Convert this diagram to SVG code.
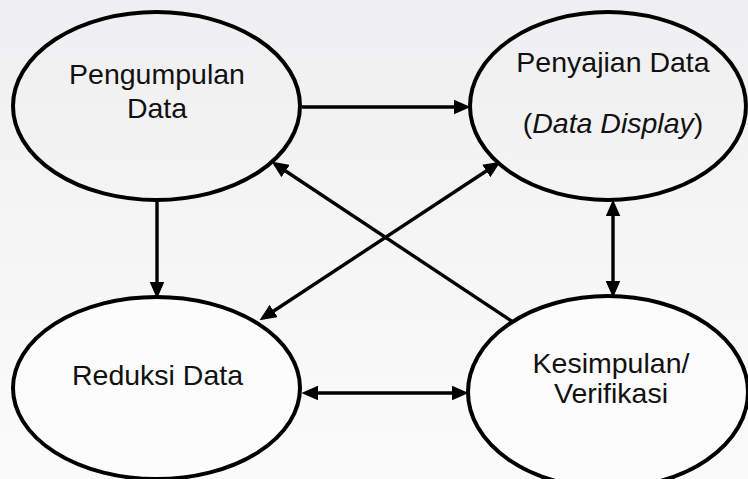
<svg xmlns="http://www.w3.org/2000/svg" width="748" height="479" viewBox="0 0 748 479">
  <style>
    .node { stroke: #000; stroke-width: 4; }
    .lbl { font-family: "Liberation Sans", Arial, sans-serif; font-size: 28.5px; fill: #111; text-anchor: middle; }
    .conn { stroke: #000; stroke-width: 3.4; fill: none; }
  </style>
  <defs>
    <linearGradient id="bg" x1="0" y1="0" x2="0" y2="1">
      <stop offset="0" stop-color="#efeff1"/>
      <stop offset="1" stop-color="#fbfbfb"/>
    </linearGradient>
    <marker id="ah" markerUnits="userSpaceOnUse" markerWidth="17" markerHeight="15" viewBox="0 0 16 14" refX="6" refY="7" orient="auto-start-reverse">
      <path d="M0,0 L16,7 L0,14 z" fill="#000"/>
    </marker>
  </defs>
  <rect x="0" y="0" width="748" height="479" fill="url(#bg)"/>

  <g id="pengumpulan">
    <ellipse class="node" cx="156.5" cy="106" rx="143.5" ry="94" fill="none"/>
    <text class="lbl" x="157" y="84">Pengumpulan</text>
    <text class="lbl" x="157" y="118">Data</text>
  </g>
  <g id="penyajian">
    <ellipse class="node" cx="608" cy="106" rx="138" ry="94" fill="none"/>
    <text class="lbl" x="613" y="72">Penyajian Data</text>
    <text class="lbl" x="613" y="133">(<tspan font-style="italic">Data Display</tspan>)</text>
  </g>
  <g id="reduksi">
    <ellipse class="node" cx="156.5" cy="388" rx="143.5" ry="91" fill="#fcfcfc"/>
    <text class="lbl" x="157.5" y="385">Reduksi Data</text>
  </g>
  <g id="kesimpulan">
    <ellipse class="node" cx="608" cy="392" rx="140" ry="96" fill="#fcfcfc"/>
    <text class="lbl" x="611" y="373">Kesimpulan/</text>
    <text class="lbl" x="611" y="403">Verifikasi</text>
  </g>

  <g id="connectors">
    <line class="conn" x1="302" y1="107" x2="460" y2="107" marker-end="url(#ah)"/>
    <line class="conn" x1="157" y1="200" x2="157" y2="288" marker-end="url(#ah)"/>
    <line class="conn" x1="613" y1="210" x2="613" y2="287" marker-start="url(#ah)" marker-end="url(#ah)"/>
    <line class="conn" x1="312" y1="393" x2="458" y2="393" marker-start="url(#ah)" marker-end="url(#ah)"/>
    <line class="conn" x1="513" y1="322" x2="280.3" y2="167.5" marker-end="url(#ah)"/>
    <line class="conn" x1="268.4" y1="314.5" x2="491.6" y2="167.5" marker-start="url(#ah)" marker-end="url(#ah)"/>
  </g>
</svg>
